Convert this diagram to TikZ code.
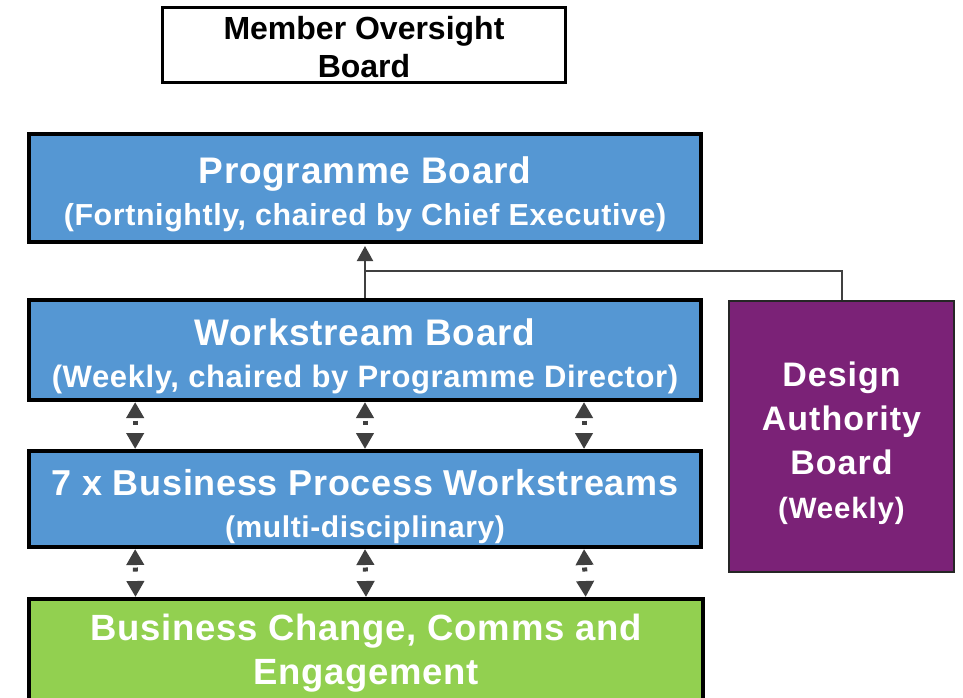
\documentclass[tikz,border=0pt]{standalone}
\usepackage{fontspec}
\setmainfont{Liberation Sans}
\newfontfamily\trackfont[LetterSpace=2]{Liberation Sans}
\newfontfamily\widefont[LetterSpace=3]{Liberation Sans}
\usetikzlibrary{arrows.meta,calc}
\definecolor{boardblue}{HTML}{5597D3}
\definecolor{changegreen}{HTML}{92D050}
\definecolor{designpurple}{HTML}{7B2277}
\definecolor{linkgrey}{HTML}{404040}
\newcommand{\fsz}[2]{\fontsize{#1}{#2}\selectfont}
\tikzset{
  board/.style={draw=black, line width=4pt, fill=boardblue, minimum width=672pt},
  boardtext/.style={text=white, align=center, inner sep=0pt, font=\trackfont\bfseries\fsz{37}{42}},
  uplink/.style={draw=linkgrey, line width=2pt},
  dotlink/.style={draw=linkgrey, line width=5pt, dash pattern=on 0pt off 3.5pt on 4pt off 12pt, {Triangle[width=17pt,length=16pt]}-{Triangle[width=17pt,length=16pt]}}
}
\begin{document}
\begin{tikzpicture}[x=1pt,y=-1pt]
  \useasboundingbox (0,0) rectangle (963,697);
  \clip (0,0) rectangle (963,697);
  \node [draw=black, line width=3pt, minimum width=403pt, minimum height=75pt] (mob) at (364,45) {};
  \node [boardtext, text=black, font=\bfseries\fsz{32}{38}] (mobtext) at ([yshift=-2pt]mob.center) {Member Oversight\\Board};
  \node [board, minimum height=108pt] (prog) at (365,188) {};
  \node [boardtext] (progtext) at ([yshift=-6pt]prog.center) {Programme Board\\{\fsz{30.4}{42}(Fortnightly, chaired by Chief Executive)}};
  \node [board, minimum height=100pt] (wsb) at (365,350) {};
  \node [boardtext] (wsbtext) at ([yshift=-6.5pt]wsb.center) {Workstream Board\\{\fsz{31}{44}(Weekly, chaired by Programme Director)}};
  \node [board, minimum height=96pt] (bpw) at (365,499) {};
  \node [boardtext] (bpwtext) at ([yshift=-8pt]bpw.center) {\fsz{36}{40}7 x Business Process Workstreams\\{\fsz{30}{40}(multi-disciplinary)}};
  \node [board, fill=changegreen, minimum width=674pt, minimum height=106pt] (bcce) at (366,652) {};
  \node [boardtext, font=\trackfont\bfseries\fsz{36.5}{44}] (bccetext) at ([yshift=-1.5pt]bcce.center) {Business Change, Comms and\\Engagement};
  \node [draw=black!85, line width=1.5pt, fill=designpurple, minimum width=225pt, minimum height=271pt] (dab) at (841.5,436.5) {};
  \node [boardtext, font=\widefont\bfseries\fsz{34}{44}] (dabtext) at ([yshift=-7pt]dab.center) {Design\\Authority\\Board\\{\fsz{29.4}{44}(Weekly)}};
  \draw [uplink, -{Triangle[width=16pt,length=15pt]}, shorten >=2pt] (wsb.north) -- (prog.south);
  \coordinate (split) at ($(wsb.north)!0.5!(prog.south)$);
  \draw [uplink] (split) -| (dab.north);
  \draw [dotlink] ($(wsb.south west)!0.16!(wsb.south east)$) -- ($(bpw.north west)!0.16!(bpw.north east)$);
  \draw [dotlink] ($(wsb.south west)!0.5!(wsb.south east)$) -- ($(bpw.north west)!0.5!(bpw.north east)$);
  \draw [dotlink] ($(wsb.south west)!0.824!(wsb.south east)$) -- ($(bpw.north west)!0.824!(bpw.north east)$);
  \draw [dotlink] ($(bpw.south west)!0.16!(bpw.south east)$) -- ($(bcce.north west)!0.16!(bcce.north east)$);
  \draw [dotlink] ($(bpw.south west)!0.5!(bpw.south east)$) -- ($(bcce.north west)!0.5!(bcce.north east)$);
  \draw [dotlink] ($(bpw.south west)!0.824!(bpw.south east)$) -- ($(bcce.north west)!0.824!(bcce.north east)$);
\end{tikzpicture}
\end{document}
